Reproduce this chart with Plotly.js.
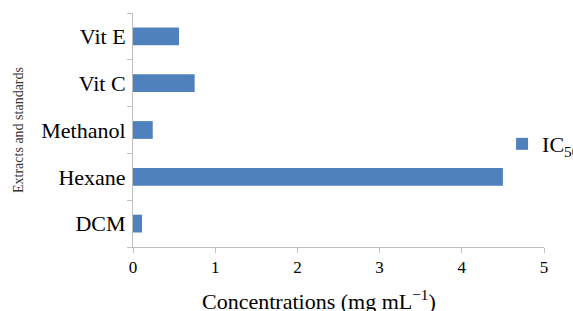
<!DOCTYPE html>
<html><head><meta charset="utf-8">
<script src="https://cdn.plot.ly/plotly-3.0.1.min.js"></script>
<style>body{margin:0;background:#fff}#c{width:573px;height:311px}</style>
</head><body><div id="c"></div>
<script>
const categories = ["DCM", "Hexane", "Methanol", "Vit C", "Vit E"];
const ic50 = [0.11, 4.50, 0.24, 0.75, 0.56];
const seriesName = "IC<sub>50</sub>";
const xTicks = [0, 1, 2, 3, 4, 5];
const xTitle = "Concentrations (mg mL<sup>−1</sup>)";
const yTitle = "Extracts and standards";

const font = "'Liberation Serif', 'Times New Roman', serif";
Plotly.newPlot("c", [{
  type: "bar", orientation: "h",
  y: categories, x: ic50, name: seriesName,
  marker: {color: "#4f81bd"},
  showlegend: true, hoverinfo: "none"
}], {
  width: 573, height: 311,
  margin: {l: 133, r: 29, t: 13, b: 64, autoexpand: false},
  paper_bgcolor: "#fff", plot_bgcolor: "#fff",
  font: {family: font, color: "#000", size: 16},
  bargap: 0.62,
  showlegend: true,
  legend: {x: 0.898, xanchor: "left", y: 0.44, yanchor: "middle",
           font: {family: font, size: 22, color: "#000"}, bgcolor: "rgba(0,0,0,0)"},
  annotations: [{text: xTitle, xref: "paper", yref: "paper", x: 0.4526, y: -0.226,
                 xanchor: "center", yanchor: "middle", showarrow: false,
                 font: {family: font, size: 22, color: "#000"}}],
  xaxis: {range: [0, 5], tickvals: xTicks, ticks: "outside", ticklen: 5, tickcolor: "#bfbfbf",
          showline: true, linecolor: "#bfbfbf", linewidth: 1, showgrid: false, zeroline: false,
          automargin: false,
          tickfont: {family: font, size: 17, color: "#000"}},
  yaxis: {type: "category", categoryarray: categories, ticks: "outside", ticklen: 5, tickcolor: "#bfbfbf",
          tickson: "boundaries", showline: true, linecolor: "#bfbfbf", linewidth: 1, showgrid: false,
          automargin: false,
          tickfont: {family: font, size: 22, color: "#000"}, ticklabelstandoff: 2,
          title: {text: yTitle, font: {family: font, size: 14, color: "#333"}, standoff: 14}}
}, {staticPlot: true});
</script></body></html>
